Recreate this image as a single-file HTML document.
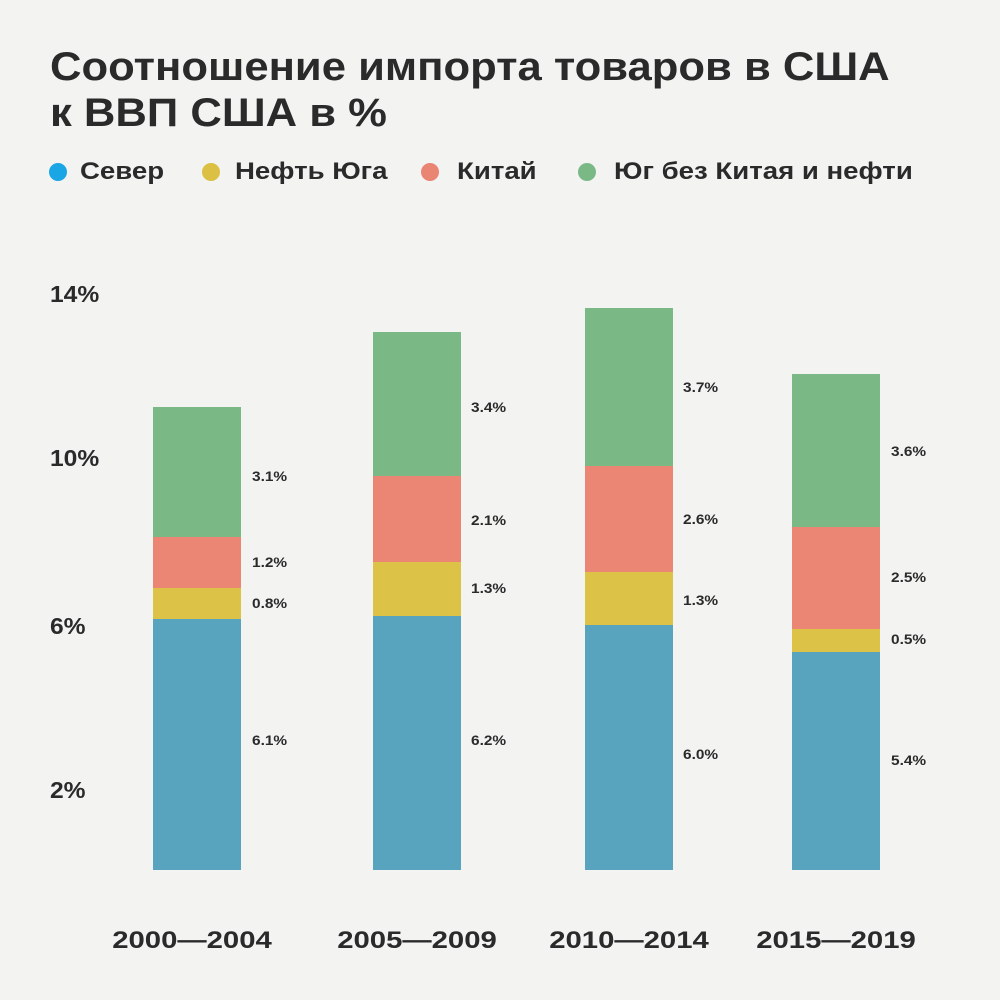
<!DOCTYPE html>
<html><head><meta charset="utf-8"><style>
body{margin:0;width:1000px;height:1000px;background:#f3f3f2;font-family:"Liberation Sans","DejaVu Sans",sans-serif;position:relative;overflow:hidden;color:#2a2a2a}
.a{position:absolute;white-space:nowrap;transform-origin:0 50%}
.t{left:50px;font-size:40px;font-weight:bold;line-height:46px;transform:scaleX(1.09)}
.lg{top:157px;font-size:24px;font-weight:bold;line-height:30px;transform:scaleX(1.15)}
.dot{position:absolute;top:163px;width:18px;height:18px;border-radius:50%}
.y{left:50px;font-size:23px;font-weight:bold;transform:scaleX(1.07)}
.b{position:absolute;width:88px}
.v{font-size:14px;font-weight:bold;transform:scaleX(1.1)}
.x{top:927px;font-size:24px;font-weight:bold;width:240px;text-align:center;transform-origin:50% 50%;transform:scaleX(1.22)}
</style></head><body>
<div class="a t" style="top:44px">Соотношение импорта товаров в США</div>
<div class="a t" style="top:90px">к ВВП США в %</div>
<div class="dot" style="left:49px;background:#1aa6e4"></div><div class="a lg" style="left:80px">Север</div>
<div class="dot" style="left:202px;background:#dcc043"></div><div class="a lg" style="left:235px">Нефть Юга</div>
<div class="dot" style="left:421px;background:#ea8473"></div><div class="a lg" style="left:457px">Китай</div>
<div class="dot" style="left:578px;background:#7ab985"></div><div class="a lg" style="left:614px">Юг без Китая и нефти</div>
<div class="a y" style="top:281px">14%</div>
<div class="a y" style="top:445px">10%</div>
<div class="a y" style="top:613px">6%</div>
<div class="a y" style="top:777px">2%</div>

<div class="b" style="left:153px;top:407px;height:130px;background:#7ab985"></div>
<div class="b" style="left:153px;top:537px;height:51px;background:#ea8673"></div>
<div class="b" style="left:153px;top:588px;height:31px;background:#dcc247"></div>
<div class="b" style="left:153px;top:619px;height:251px;background:#58a4bf"></div>

<div class="b" style="left:373px;top:332px;height:144px;background:#7ab985"></div>
<div class="b" style="left:373px;top:476px;height:86px;background:#ea8673"></div>
<div class="b" style="left:373px;top:562px;height:54px;background:#dcc247"></div>
<div class="b" style="left:373px;top:616px;height:254px;background:#58a4bf"></div>

<div class="b" style="left:585px;top:308px;height:158px;background:#7ab985"></div>
<div class="b" style="left:585px;top:466px;height:106px;background:#ea8673"></div>
<div class="b" style="left:585px;top:572px;height:53px;background:#dcc247"></div>
<div class="b" style="left:585px;top:625px;height:245px;background:#58a4bf"></div>

<div class="b" style="left:792px;top:374px;height:153px;background:#7ab985"></div>
<div class="b" style="left:792px;top:527px;height:102px;background:#ea8673"></div>
<div class="b" style="left:792px;top:629px;height:23px;background:#dcc247"></div>
<div class="b" style="left:792px;top:652px;height:218px;background:#58a4bf"></div>

<div class="a v" style="left:252px;top:468px">3.1%</div>
<div class="a v" style="left:252px;top:554px">1.2%</div>
<div class="a v" style="left:252px;top:595px">0.8%</div>
<div class="a v" style="left:252px;top:732px">6.1%</div>
<div class="a v" style="left:471px;top:399px">3.4%</div>
<div class="a v" style="left:471px;top:512px">2.1%</div>
<div class="a v" style="left:471px;top:580px">1.3%</div>
<div class="a v" style="left:471px;top:732px">6.2%</div>
<div class="a v" style="left:683px;top:379px">3.7%</div>
<div class="a v" style="left:683px;top:511px">2.6%</div>
<div class="a v" style="left:683px;top:592px">1.3%</div>
<div class="a v" style="left:683px;top:746px">6.0%</div>
<div class="a v" style="left:891px;top:443px">3.6%</div>
<div class="a v" style="left:891px;top:569px">2.5%</div>
<div class="a v" style="left:891px;top:631px">0.5%</div>
<div class="a v" style="left:891px;top:752px">5.4%</div>

<div class="a x" style="left:72px">2000—2004</div>
<div class="a x" style="left:297px">2005—2009</div>
<div class="a x" style="left:509px">2010—2014</div>
<div class="a x" style="left:716px">2015—2019</div>
</body></html>
